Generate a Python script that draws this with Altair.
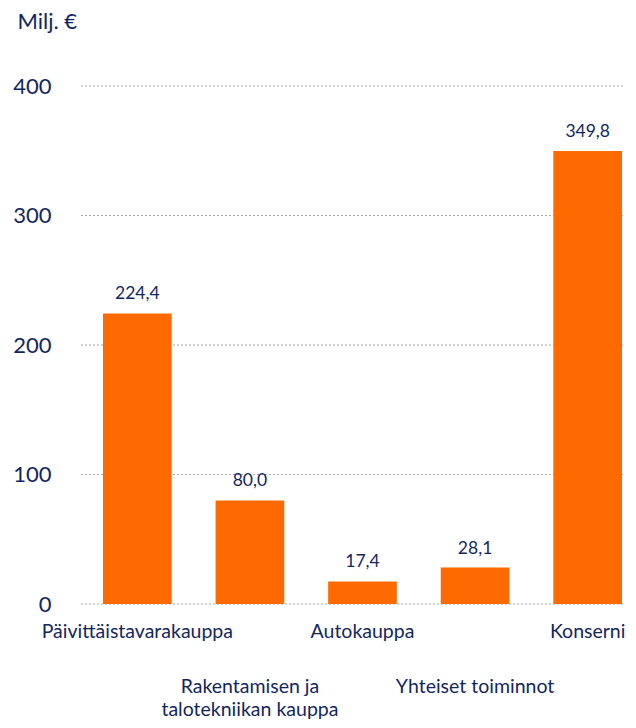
import altair as alt
import pandas as pd

categories = ["Päivittäistavarakauppa", "Rakentamisen ja\ntalotekniikan kauppa",
              "Autokauppa", "Yhteiset toiminnot", "Konserni"]
values = [224.4, 80.0, 17.4, 28.1, 349.8]
label_row = [1, 2, 1, 2, 1]
y_ticks = [0, 100, 200, 300, 400]

df = pd.DataFrame({"cat": categories, "v": values, "row": label_row})
grid_df = pd.DataFrame({"t": y_ticks})

NAVY = "#13275f"
ORANGE = "#ff6a00"
FONT = "Lato"
W = 543

xscale = alt.Scale(domain=categories, range=[22, 541], paddingInner=0.39, paddingOuter=0)
yscale = alt.Scale(domain=[0, 400], nice=False)

grid = alt.Chart(grid_df).mark_rule(color="#a8a8a8", strokeDash=[2, 2], strokeWidth=1).encode(
    y=alt.Y("t:Q", scale=yscale),
    x=alt.value(0), x2=alt.value(W),
)

base = alt.Chart(df).encode(
    x=alt.X("cat:N", sort=categories, scale=xscale, axis=None)
)

bars = base.mark_bar(color=ORANGE).encode(
    y=alt.Y("v:Q", scale=yscale,
            axis=alt.Axis(values=y_ticks, title="Milj. €", titleAngle=0,
                          titleX=-64, titleY=-58, titleAlign="left",
                          titleBaseline="alphabetic", titleFont=FONT,
                          titleFontSize=22, titleFontWeight="normal",
                          titleColor=NAVY, labelFont=FONT, labelFontSize=22,
                          labelColor=NAVY, labelPadding=30, domain=False,
                          ticks=False, grid=False))
)

vals = base.transform_calculate(
    lbl="replace(format(datum.v, '.1f'), '.', ',')"
).mark_text(font=FONT, fontSize=17.5, color=NAVY, baseline="bottom", dy=-10).encode(
    y=alt.Y("v:Q", scale=yscale), text="lbl:N"
)

row1 = base.transform_filter("datum.row == 1").mark_text(
    font=FONT, fontSize=19.5, color=NAVY, baseline="middle"
).encode(y=alt.value(546), text="cat:N")

row2 = base.transform_filter("datum.row == 2").mark_text(
    font=FONT, fontSize=19.5, color=NAVY, baseline="top", lineHeight=23, lineBreak="\n"
).encode(y=alt.value(592), text="cat:N")

chart = alt.layer(grid, bars, vals, row1, row2).properties(
    width=W, height=518,
    autosize=alt.AutoSizeParams(type="none"),
    padding={"left": 73, "top": 78, "right": 4, "bottom": 116},
).configure_view(stroke=None)

chart.save("out.html", embed_options={"renderer": "svg", "actions": False})
